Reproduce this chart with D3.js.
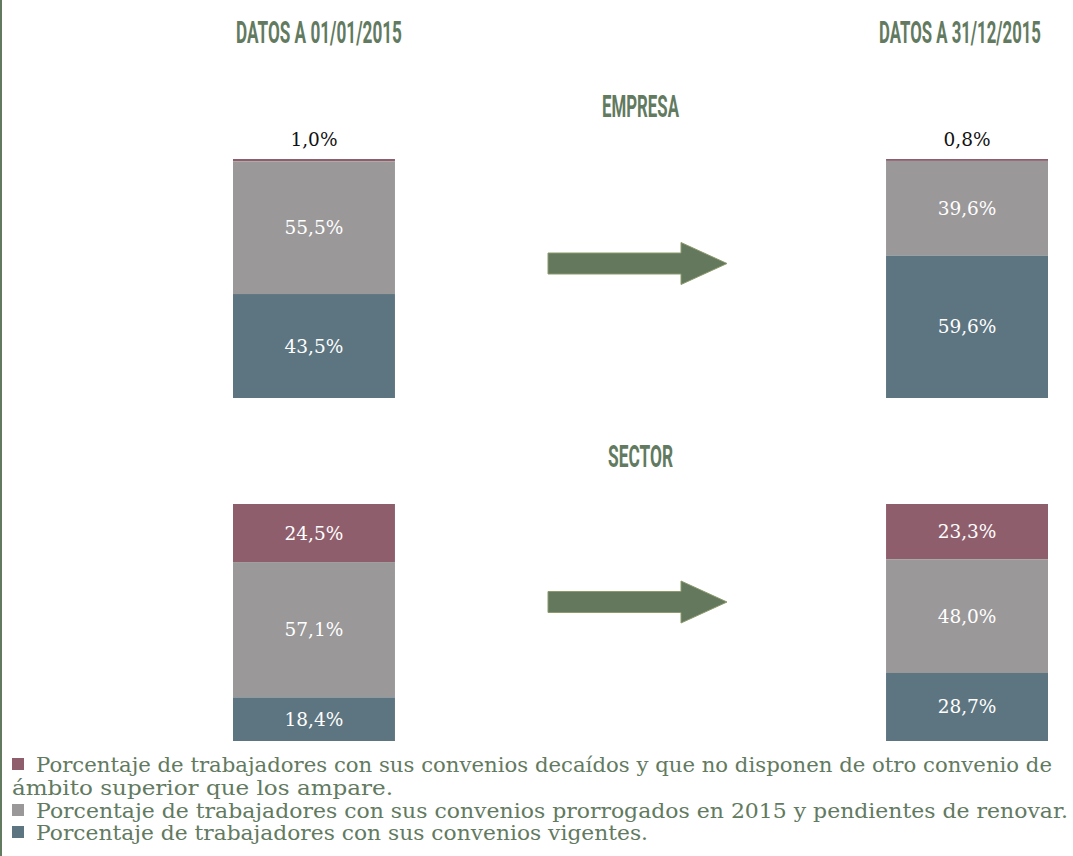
<!DOCTYPE html>
<html>
<head>
<meta charset="utf-8">
<script src="https://cdn.jsdelivr.net/npm/d3@7"></script>
<style>
  body { margin: 0; background: #fff; }
  .head { font-family: Roboto, "Liberation Sans", sans-serif; font-weight: 700; fill: #627a5f; }
  .val { font-family: "DejaVu Serif", serif; font-size: 18.5px; }
  .legend text { font-family: "DejaVu Serif", serif; font-size: 20.5px; fill: #627a5f; }
</style>
</head>
<body>
<div id="chart"></div>
<script>
// Data
const periods = ["DATOS A 01/01/2015", "DATOS A 31/12/2015"];
const groups = ["EMPRESA", "SECTOR"];
const segments = ["decaidos", "prorrogados", "vigentes"];
// values per period, order top -> bottom: decaidos, prorrogados, vigentes
const empresaDecaidos = [1.0, 0.8];
const empresaProrrogados = [55.5, 39.6];
const empresaVigentes = [43.5, 59.6];
const sectorDecaidos = [24.5, 23.3];
const sectorProrrogados = [57.1, 48.0];
const sectorVigentes = [18.4, 28.7];
const legendLines = [
  {seg: "decaidos", text: "Porcentaje de trabajadores con sus convenios decaídos y que no disponen de otro convenio de"},
  {seg: null, text: "ámbito superior que los ampare."},
  {seg: "prorrogados", text: "Porcentaje de trabajadores con sus convenios prorrogados en 2015 y pendientes de renovar."},
  {seg: "vigentes", text: "Porcentaje de trabajadores con sus convenios vigentes."}
];

const color = d3.scaleOrdinal()
    .domain(segments)
    .range(["#8f5e6c", "#9a9899", "#5d7580"]);

const width = 1073, height = 856;

const svg = d3.select("#chart")
    .append("svg")
    .attr("width", width)
    .attr("height", height);

// Left border line
svg.append("line")
    .attr("x1", 1).attr("x2", 1)
    .attr("y1", 0).attr("y2", height)
    .attr("stroke", "#627a5f")
    .attr("stroke-width", 2);

const x = d3.scaleBand()
    .domain(periods)
    .range([233, 1048])
    .paddingInner(0.752);

// squeeze a text horizontally to a target width (condensed headline look)
function condense(sel, cx, w) {
  const node = sel.node();
  const len = node.getComputedTextLength();
  const s = w / len;
  sel.attr("x", 0)
     .attr("transform", `translate(${cx},0) scale(${s},1)`);
}

// Period headers
const headOffset = [5, -7];
const headWidth = [166, 162];
periods.forEach((p, i) => {
  const t = svg.append("text")
      .attr("class", "head period")
      .attr("y", 43)
      .attr("text-anchor", "middle")
      .attr("font-size", 32)
      .text(p);
  condense(t, x(p) + x.bandwidth() / 2 + headOffset[i], headWidth[i]);
});

const midX = (x(periods[0]) + x(periods[1]) + x.bandwidth()) / 2;

const blocks = [
  {name: groups[0], top: 159, bottom: 398, titleY: 117, titleW: 77, arrowShift: -15,
   vals: [empresaDecaidos, empresaProrrogados, empresaVigentes]},
  {name: groups[1], top: 504, bottom: 741, titleY: 467, titleW: 65, arrowShift: -20.5,
   vals: [sectorDecaidos, sectorProrrogados, sectorVigentes]}
];

const fmt = v => d3.format(".1f")(v).replace(".", ",") + "%";

blocks.forEach(b => {
  const y = d3.scaleLinear().domain([0, 100]).range([b.top, b.bottom]);

  const title = svg.append("text")
      .attr("class", "head")
      .attr("y", b.titleY)
      .attr("text-anchor", "middle")
      .attr("font-size", 31)
      .text(b.name);
  condense(title, midX, b.titleW);

  periods.forEach((p, pi) => {
    let acc = 0;
    const stack = segments.map((s, si) => {
      const v = b.vals[si][pi];
      const item = {seg: s, v: v, y0: acc, y1: acc + v};
      acc += v;
      return item;
    });

    const g = svg.append("g");
    g.selectAll("rect")
        .data(stack)
        .join("rect")
        .attr("x", x(p))
        .attr("width", x.bandwidth())
        .attr("y", d => y(d.y0))
        .attr("height", d => y(d.y1) - y(d.y0))
        .attr("fill", d => color(d.seg));

    g.selectAll("text")
        .data(stack)
        .join("text")
        .attr("class", "val")
        .attr("x", x(p) + x.bandwidth() / 2)
        .attr("y", d => (y(d.y1) - y(d.y0)) < 20 ? y(d.y0) - 13 : (y(d.y0) + y(d.y1)) / 2 + 6.5)
        .attr("text-anchor", "middle")
        .attr("fill", d => (y(d.y1) - y(d.y0)) < 20 ? "#111" : "#fff")
        .text(d => fmt(d.v));
  });

  // Arrow between the two bars
  const cy = (b.top + b.bottom) / 2 + b.arrowShift;
  const x0 = 548, xb = 681, xt = 727;
  const arrow = d3.path();
  arrow.moveTo(x0, cy - 10.5);
  arrow.lineTo(xb, cy - 10.5);
  arrow.lineTo(xb, cy - 21);
  arrow.lineTo(xt, cy);
  arrow.lineTo(xb, cy + 21);
  arrow.lineTo(xb, cy + 10.5);
  arrow.lineTo(x0, cy + 10.5);
  arrow.closePath();
  svg.append("path")
      .attr("d", arrow.toString())
      .attr("fill", "#63785c")
      .attr("stroke", "#8c9a6c")
      .attr("stroke-width", 1);
});

// Legend
const legend = svg.append("g").attr("class", "legend");
const lineY = [772, 795, 818, 840];
const lineEnd = [1052, 393, 1068, 648];
legendLines.forEach((l, i) => {
  if (l.seg) {
    legend.append("rect")
        .attr("x", 12).attr("y", lineY[i] - 14)
        .attr("width", 12).attr("height", 12)
        .attr("fill", color(l.seg));
  }
  const x0 = l.seg ? 36 : 12;
  legend.append("text")
      .attr("x", x0)
      .attr("y", lineY[i])
      .attr("textLength", lineEnd[i] - x0)
      .attr("lengthAdjust", "spacingAndGlyphs")
      .text(l.text);
});
</script>
</body>
</html>
